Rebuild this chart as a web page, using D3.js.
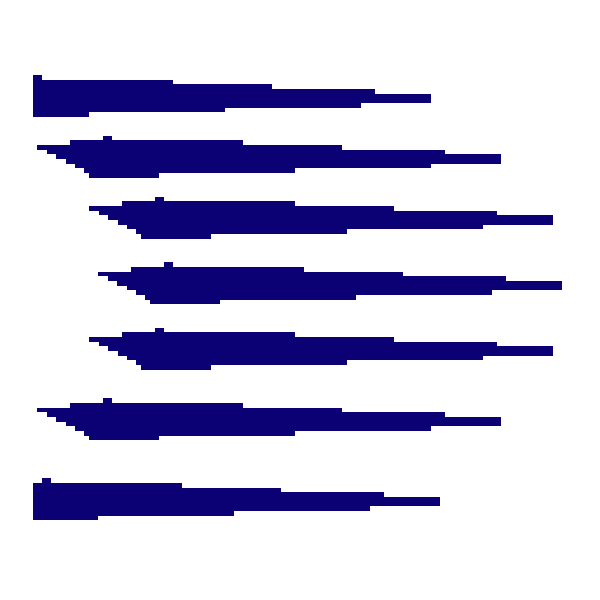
<!DOCTYPE html>
<html>
<head>
<meta charset="utf-8">
<script src="https://cdn.jsdelivr.net/npm/d3@7"></script>
<style>
  body { margin: 0; background: #fff; }
</style>
</head>
<body>
<script>
const width = 600;
const height = 600;
const marginTop = 33;
const marginRight = 33;
const marginBottom = 33;
const marginLeft = 33;

// seven groups, each the same stepped shape moved sideways
const groupShift = [-70, 0, 52, 61, 52, 0, -61];
const groupTop = [42, 102.7, 163.7, 229.3, 294.7, 365.3, 445.3];

// nine rows per group: where each bar starts and ends
const rowStart = [70, 37, 4.3, 13.7, 23, 32.7, 42, 51.3, 56];
const rowEnd = [79, 210, 308.7, 412, 468, 468, 398, 262, 126];
const rowHeight = 4.67;

const xScale = d3.scaleLinear()
    .domain([0, 534])
    .range([marginLeft, width - marginRight]);

const yScale = d3.scaleLinear()
    .domain([0, 534])
    .range([marginTop, height - marginBottom]);

const svg = d3.select("body")
    .append("svg")
    .attr("width", width)
    .attr("height", height);

svg.append("defs")
  .append("clipPath")
    .attr("id", "plot")
  .append("rect")
    .attr("x", xScale(0))
    .attr("y", 0)
    .attr("width", xScale(534) - xScale(0))
    .attr("height", height);

const bars = [];
groupShift.forEach((s, g) => {
  rowStart.forEach((x0, r) => {
    bars.push({
      g: g,
      r: r,
      x0: x0 + s,
      x1: rowEnd[r] + s,
      y: groupTop[g] + r * rowHeight
    });
  });
});

svg.append("g")
    .attr("clip-path", "url(#plot)")
    .attr("shape-rendering", "crispEdges")
  .selectAll("rect")
  .data(bars)
  .join("rect")
    .attr("x", d => xScale(d.x0))
    .attr("y", d => yScale(d.y))
    .attr("width", d => xScale(d.x1) - xScale(d.x0))
    .attr("height", yScale(rowHeight) - yScale(0))
    .attr("fill", "#0b0074");
</script>
</body>
</html>
